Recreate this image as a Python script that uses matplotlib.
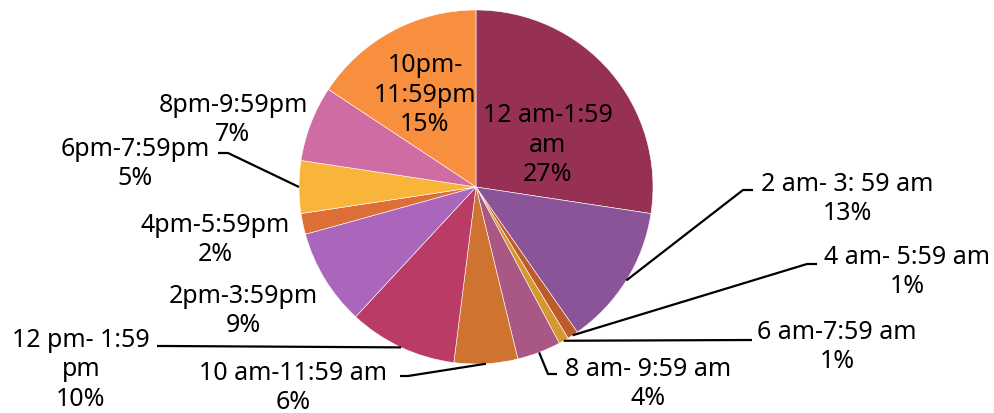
import numpy as np
import matplotlib.pyplot as plt

# time slots, clockwise from 12 o'clock
slots = ["12 am-1:59\nam", "2 am- 3: 59 am", "4 am- 5:59 am", "6 am-7:59 am",
         "8 am- 9:59 am", "10 am-11:59 am", "12 pm- 1:59\npm", "2pm-3:59pm",
         "4pm-5:59pm", "6pm-7:59pm", "8pm-9:59pm", "10pm-\n11:59pm"]
# shares
shares = [27.4, 12.9, 1.0, 0.9, 4.0, 5.8, 9.9, 8.8, 1.9, 4.8, 6.9, 15.7]
# percentages as printed on the labels
pct_labels = [27, 13, 1, 1, 4, 6, 10, 9, 2, 5, 7, 15]

colors = ["#963054", "#8B5499", "#BF5A2B", "#D4982E", "#A95886", "#CF7430",
          "#B93B66", "#A966BB", "#DD6E37", "#F8B53A", "#CE6CA3", "#F88F3F"]

W, H = 995, 414
cx, cy, R = 476, 188, 177   # pie centre / radius in pixels (y from top)

# label block centres (pixels, y from top) and leader elbows
text_pos = [(548, 145), (847, 199), (907, 272), (837, 347), (648, 384),
            (293, 388), (81, 370), (243, 311), (215, 240), (135, 164),
            (233, 120), (425, 95)]
elbows = [None, [(743, 191), (753, 191)], [(807, 265), (817, 265)],
          [(752, 341)], [(548, 375), (557, 375)], [(408, 377), (400, 377)],
          [(165, 347), (157, 347)], None, None, [(228, 154), (218, 154)],
          None, None]

fig = plt.figure(figsize=(W / 100, H / 100), dpi=100)
ax = fig.add_axes([0, 0, 1, 1])
ax.set_xlim(0, W)
ax.set_ylim(0, H)
ax.axis("off")

wedges, _ = ax.pie(shares, colors=colors, startangle=90, counterclock=False,
                   center=(cx, H - cy), radius=R,
                   wedgeprops=dict(edgecolor="white", linewidth=0.4))
ax.set_xlim(0, W)
ax.set_ylim(0, H)
ax.set_aspect("equal")

for i, w in enumerate(wedges):
    tx, ty = text_pos[i]
    ax.text(tx, H - ty, f"{slots[i]}\n{pct_labels[i]}%", ha="center", va="center",
            multialignment="center", fontsize=18, color="black",
            family="Noto Sans", linespacing=1.25)
    if elbows[i] is not None:
        mid = np.deg2rad((w.theta1 + w.theta2) / 2)
        ax_x = cx + R * np.cos(mid)
        ax_y = (H - cy) + R * np.sin(mid)
        xs = [ax_x] + [p[0] for p in elbows[i]]
        ys = [ax_y] + [H - p[1] for p in elbows[i]]
        ax.plot(xs, ys, color="black", lw=1.6, solid_capstyle="butt")

fig.savefig("out.png", dpi=100)
